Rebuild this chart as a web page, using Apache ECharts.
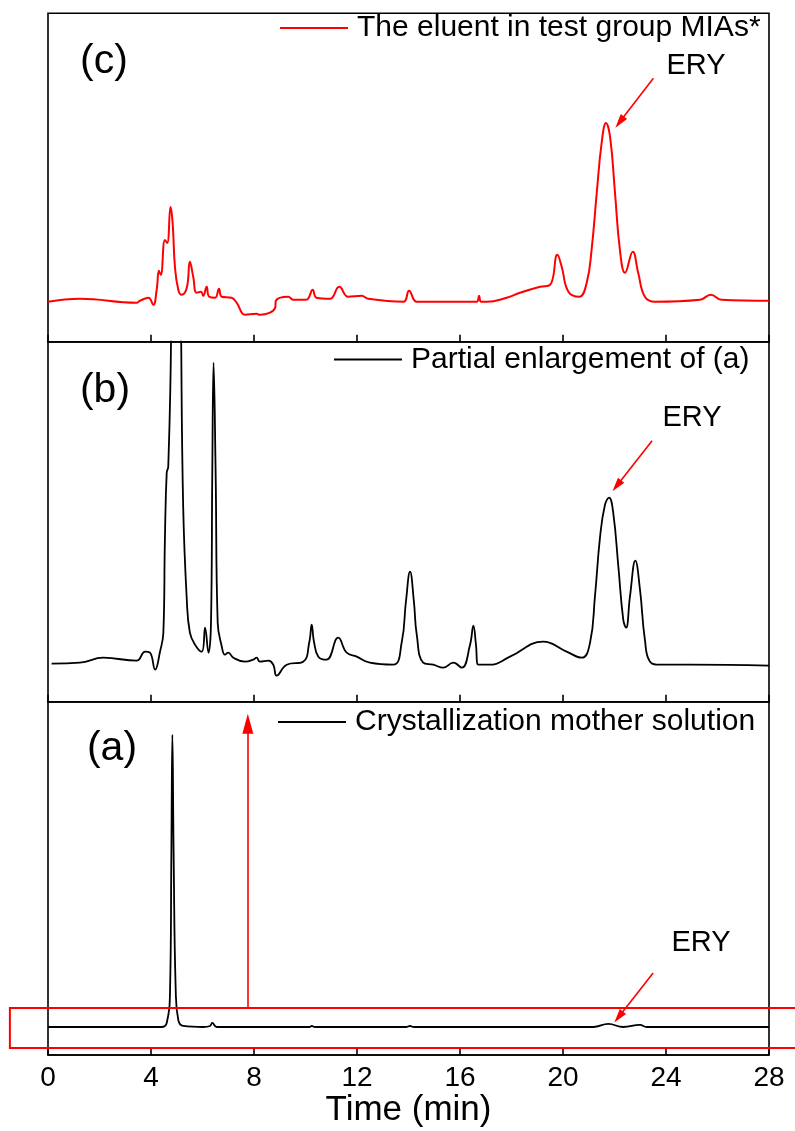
<!DOCTYPE html>
<html><head><meta charset="utf-8">
<script src="https://cdn.jsdelivr.net/npm/echarts@6/dist/echarts.min.js"></script>
<style>html,body{margin:0;padding:0;background:#fff}#chart{width:795px;height:1131px}</style>
</head><body><div id="chart"></div>
<script>
// ---------- data (time in min, intensity in arbitrary units) ----------
const timeC = [0,1.24,3.44,3.57,3.9,4.09,4.22,4.31,4.38,4.54,4.63,4.76,4.84,4.93,5.06,5.19,5.39,5.51,5.64,5.77,5.94,6.03,6.16,6.26,6.49,6.64,6.75,7.13,7.33,7.65,8.1,8.23,8.82,8.85,9.33,9.53,9.98,10.1,10.28,10.43,10.95,11.31,11.66,12.18,12.44,13.8,14.02,14.32,14.96,16.65,16.74,16.82,17.04,17.81,18.33,19.11,19.5,19.78,19.95,20.21,20.63,20.92,21.11,21.31,21.5,21.67,21.83,22.02,22.21,22.41,22.71,22.92,23.18,23.57,25.32,25.74,26.16,28];
const intensityC = [0,3,-1,1,4,-3,12,31,27,62,59,95,79,35,12,7,14,40,25,9,10,6,15,5,4,13,5,4,-1,-13,-12,-13,-6,1,5,2,2,3,12,4,3,15,5,6,3,0,11,0,0,0,6,0,0,4,9,15,17,47,35,10,5,19,52,109,159,179,165,109,52,29,50,29,5,0,2,7,2,1];

const timeB = [0.14,1.24,2.15,3.44,3.77,3.96,4.16,4.35,4.48,4.54,4.61,4.67,4.78,4.87,5.05,5.17,5.25,5.39,5.51,5.71,5.97,6.1,6.23,6.33,6.38,6.43,6.51,6.59,6.75,6.87,7.0,7.2,7.65,7.97,8.1,8.23,8.56,8.75,8.88,9.27,9.91,10.15,10.24,10.33,10.5,10.82,11.27,11.6,11.99,12.5,13.41,13.74,13.9,14.06,14.21,14.32,14.57,14.96,15.35,15.74,16.07,16.39,16.52,16.62,16.71,17.17,17.94,19.23,20.14,20.73,21.05,21.24,21.44,21.63,21.79,21.95,22.15,22.34,22.45,22.6,22.81,22.99,23.18,23.38,23.77,24.93,28];
const intensityB = [0,1,6,3,12,11,-6,12,31,124,191,197,330,900,700,330,157,64,31,19,12,36,11,41,191,301,191,41,17,9,11,6,2,4,6,2,3,-1,-12,-1,2,22,39,22,7,4,26,11,7,1,-1,22,62,92,62,29,1,-1,-4,1,-4,19,38,19,-1,-1,7,22,12,6,21,67,127,159,166,151,97,44,36,67,103,74,24,2,-1,-1,-2];

const timeA = [0,4.41,4.61,4.74,4.79,4.83,4.88,4.96,5.06,5.25,6.03,6.29,6.38,6.55,10.17,10.24,10.37,13.9,14.06,14.2,16.4,21.18,21.76,22.34,22.99,23.25,28];
const intensityA = [0,0,4,37,170,292,170,37,7,1,0,1,4,0,0,1,0,0,1,0,0,0,3,0,2,0,0];

const seriesNames = ['The eluent in test group MIAs*','Partial enlargement of (a)','Crystallization mother solution'];
const panelLabels = ['(c)','(b)','(a)'];
const xTickValues = [0,4,8,12,16,20,24,28];

const zip = (t, v) => t.map((x, i) => [x, v[i]]);
const FONT = 'Liberation Sans, Arial, sans-serif';

const chart = echarts.init(document.getElementById('chart'), null, {renderer: 'canvas'});

const grids = [
  {left: 48, right: 26, top: 13.3, height: 328.4},
  {left: 48, right: 26, top: 341.7, height: 360},
  {left: 48, right: 26, top: 701.7, height: 353.3}
].map(g => Object.assign(g, {show: true, borderColor: '#000', borderWidth: 1.6, backgroundColor: 'transparent', containLabel: false}));

const yRanges = [[-40, 289], [-38, 322], [-28, 325]];

const xAxes = [0,1,2].map(i => ({
  type: 'value', gridIndex: i, min: xTickValues[0], max: xTickValues[xTickValues.length - 1], interval: 4,
  axisLine: {show: true, onZero: false, lineStyle: {color: '#000', width: 1.6}},
  axisTick: {show: true, inside: true, length: 7, lineStyle: {color: '#000', width: 1.6}},
  axisLabel: {show: i === 2, color: '#000', fontSize: 28, fontFamily: FONT, margin: 9},
  splitLine: {show: false},
  name: i === 2 ? 'Time (min)' : '', nameLocation: 'middle', nameGap: 38,
  nameTextStyle: {color: '#000', fontSize: 35, fontFamily: FONT}
}));

const yAxes = [0,1,2].map(i => ({
  type: 'value', gridIndex: i, min: yRanges[i][0], max: yRanges[i][1],
  axisLine: {show: false}, axisTick: {show: false}, axisLabel: {show: false}, splitLine: {show: false}
}));

const arrowStyle = {color: '#ff0000', width: 1.6, type: 'solid'};
function eryArrow(from, to) {
  return [{coord: from, symbol: 'none'}, {coord: to, symbol: 'triangle', symbolSize: [8, 14]}];
}

const lineCommon = {type: 'line', showSymbol: false, smooth: 0.45, clip: true};

const series = [
  Object.assign({}, lineCommon, {
    name: seriesNames[0], xAxisIndex: 0, yAxisIndex: 0,
    data: zip(timeC, intensityC),
    lineStyle: {color: '#ff0000', width: 2}, itemStyle: {color: '#ff0000'},
    markLine: {silent: true, animation: false, label: {show: false}, lineStyle: arrowStyle,
      data: [eryArrow([23.51, 224], [22.2, 180])]}
  }),
  Object.assign({}, lineCommon, {
    name: seriesNames[1], xAxisIndex: 1, yAxisIndex: 1,
    data: zip(timeB, intensityB),
    lineStyle: {color: '#000', width: 1.8}, itemStyle: {color: '#000'},
    markLine: {silent: true, animation: false, label: {show: false}, lineStyle: arrowStyle,
      data: [eryArrow([23.46, 223], [22.09, 178])]}
  }),
  Object.assign({}, lineCommon, {
    name: seriesNames[2], xAxisIndex: 2, yAxisIndex: 2,
    data: zip(timeA, intensityA),
    lineStyle: {color: '#000', width: 1.8}, itemStyle: {color: '#000'},
    markLine: {silent: true, animation: false, label: {show: false}, lineStyle: arrowStyle,
      data: [
        [{coord: [7.76, 19], symbol: 'none'}, {coord: [7.76, 303], symbol: 'triangle', symbolSize: [11, 20]}],
        eryArrow([23.5, 54], [22.16, 10])
      ]}
  })
];

const legendPos = [{left: 280, top: 13}, {left: 334, top: 344.5}, {left: 278, top: 707}];
const legends = legendPos.map((p, i) => ({
  left: p.left, top: p.top, padding: 0, data: [seriesNames[i]],
  icon: 'rect', itemWidth: 68, itemHeight: 2, selectedMode: false,
  textStyle: {color: '#000', fontSize: 30, fontFamily: FONT, padding: [0, 0, 0, 4]}
}));

chart.setOption({
  animation: false,
  backgroundColor: '#fff',
  grid: grids, xAxis: xAxes, yAxis: yAxes, series: series, legend: legends
});

// annotation: red box in panel (a) (data coords of panel a)
const boxT = [-1.48, 29.5];
const boxV = [19, -21];
const pA = chart.convertToPixel({gridIndex: 2}, [boxT[0], boxV[0]]);
const pB = chart.convertToPixel({gridIndex: 2}, [boxT[1], boxV[1]]);

const textStyle = (txt, x, y, size) => ({
  type: 'text', x: x, y: y,
  style: {text: txt, fill: '#000', font: size + 'px ' + FONT, textAlign: 'center', textVerticalAlign: 'middle'}
});

chart.setOption({
  graphic: [
    {type: 'rect', shape: {x: pA[0], y: pA[1], width: pB[0] - pA[0], height: pB[1] - pA[1]},
     style: {fill: 'none', stroke: '#ff0000', lineWidth: 2}, z: 100},
    textStyle(panelLabels[0], 104, 62, 41),
    textStyle(panelLabels[1], 105, 391, 41),
    textStyle(panelLabels[2], 112, 749, 41),
    textStyle('ERY', 696, 66, 29),
    textStyle('ERY', 692, 418, 29),
    textStyle('ERY', 701, 943, 29)
  ]
});
</script></body></html>
